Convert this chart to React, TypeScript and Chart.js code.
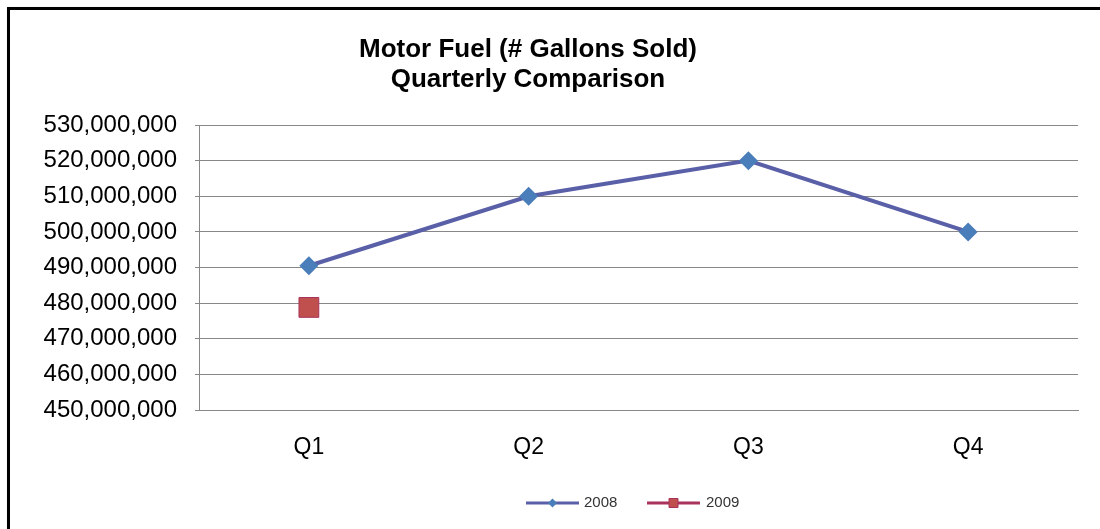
import React, { useEffect, useRef } from "react";
import { Chart, registerables } from "chart.js";

Chart.register(...registerables);

const categories = ["Q1", "Q2", "Q3", "Q4"];
const series2008 = [490500000, 510000000, 520000000, 500000000];
const series2009: (number | null)[] = [478800000, null, null, null];
const titleLines = ["Motor Fuel (# Gallons Sold)", "Quarterly Comparison"];
const seriesNames = ["2008", "2009"];

const FONT = "'Liberation Sans', Arial, sans-serif";
const C2008_LINE = "#5A60A8";
const C2008_MARK = "#4A7EBB";
const C2009_LINE = "#A8335C";
const C2009_MARK = "#C0504D";

const overlayPlugin = {
  id: "overlay",
  afterDraw(chart: any) {
    const ctx = chart.ctx;
    ctx.save();
    // title
    ctx.fillStyle = "#000";
    ctx.font = `bold 26px ${FONT}`;
    ctx.textAlign = "center";
    ctx.textBaseline = "alphabetic";
    ctx.fillText(titleLines[0], 528, 57);
    ctx.fillText(titleLines[1], 528, 87);

    // legend
    const y = 503;
    const items = [
      { x0: 526, x1: 579, line: C2008_LINE, mark: C2008_MARK, border: C2008_MARK, shape: "diamond", tx: 584 },
      { x0: 647, x1: 700, line: C2009_LINE, mark: C2009_MARK, border: C2009_LINE, shape: "square", tx: 706 },
    ];
    items.forEach((it, i) => {
      ctx.strokeStyle = it.line;
      ctx.lineWidth = 3;
      ctx.beginPath();
      ctx.moveTo(it.x0, y);
      ctx.lineTo(it.x1, y);
      ctx.stroke();
      const cx = (it.x0 + it.x1) / 2;
      ctx.fillStyle = it.mark;
      ctx.strokeStyle = it.border;
      ctx.lineWidth = 1;
      ctx.beginPath();
      if (it.shape === "diamond") {
        ctx.moveTo(cx, y - 4.5);
        ctx.lineTo(cx + 4.5, y);
        ctx.lineTo(cx, y + 4.5);
        ctx.lineTo(cx - 4.5, y);
        ctx.closePath();
        ctx.fill();
      } else {
        ctx.rect(cx - 4.5, y - 4.5, 9, 9);
        ctx.fill();
        ctx.stroke();
      }
      ctx.fillStyle = "#333";
      ctx.font = `15px ${FONT}`;
      ctx.textAlign = "left";
      ctx.textBaseline = "middle";
      ctx.fillText(seriesNames[i], it.tx, y);
    });
    ctx.restore();
  },
};

export default function App() {
  const ref = useRef<HTMLCanvasElement>(null);
  useEffect(() => {
    if (!ref.current) return;
    const chart = new Chart(ref.current, {
      type: "line",
      data: {
        labels: categories,
        datasets: [
          {
            label: seriesNames[0],
            data: series2008,
            borderColor: C2008_LINE,
            borderWidth: 4,
            backgroundColor: C2008_MARK,
            pointStyle: "rectRot",
            pointRadius: 9.5,
            pointBorderWidth: 0,
            pointBackgroundColor: C2008_MARK,
            pointBorderColor: C2008_MARK,
            tension: 0,
          },
          {
            label: seriesNames[1],
            data: series2009,
            borderColor: C2009_LINE,
            borderWidth: 3,
            backgroundColor: C2009_MARK,
            pointStyle: "rect",
            pointRadius: 14,
            pointBorderWidth: 1,
            pointBackgroundColor: C2009_MARK,
            pointBorderColor: C2009_LINE,
            tension: 0,
          },
        ],
      },
      options: {
        animation: false,
        responsive: false,
        layout: { padding: { left: 0, right: 22, top: 125, bottom: 49 } },
        plugins: {
          legend: { display: false },
          title: { display: false },
          tooltip: { enabled: false },
        },
        scales: {
          x: {
            offset: true,
            grid: { display: false, drawTicks: false },
            border: { display: true, color: "#888", width: 1 },
            ticks: { color: "#000", font: { family: FONT, size: 23 }, padding: 24 },
            afterFit: (s: any) => {
              s.height = 70;
            },
          },
          y: {
            min: 450000000,
            max: 530000000,
            ticks: {
              stepSize: 10000000,
              color: "#000",
              font: { family: FONT, size: 24 },
              padding: 18,
              callback: (v: any) => Number(v).toLocaleString("en-US"),
            },
            grid: { color: "#888", lineWidth: 1, tickLength: 4, drawTicks: true },
            border: { display: true, color: "#888", width: 1 },
            afterFit: (s: any) => {
              s.width = 199;
            },
          },
        },
      },
      plugins: [overlayPlugin],
    });
    return () => chart.destroy();
  }, []);

  return (
    <div style={{ position: "fixed", left: 0, top: 0, width: 1100, height: 529, background: "#fff", overflow: "hidden" }}>
      <div
        style={{
          position: "absolute",
          left: 7,
          top: 7,
          width: 1200,
          height: 600,
          borderLeft: "3px solid #000",
          borderTop: "3px solid #000",
          boxShadow: "1px 1px 2px rgba(0,0,0,0.3)",
        }}
      />
      <canvas ref={ref} width={1100} height={529} style={{ position: "absolute", left: 0, top: 0, display: "block" }} />
    </div>
  );
}
